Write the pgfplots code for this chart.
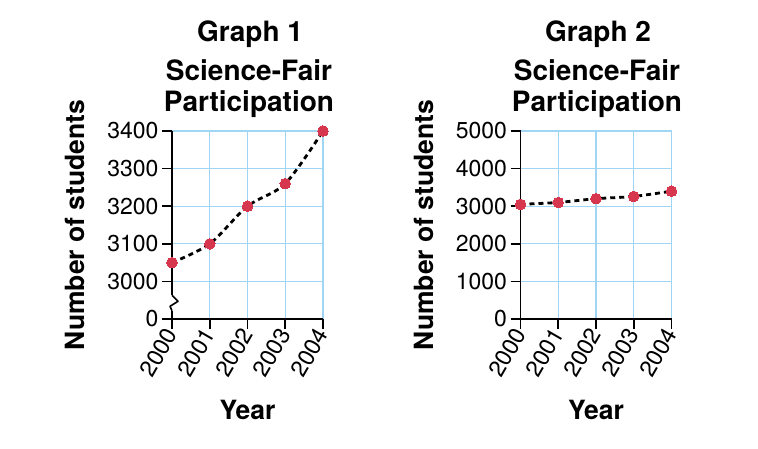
\documentclass[border=0pt]{standalone}
\usepackage{pgfplots}
\pgfplotsset{compat=1.18}
\usepackage{fontspec}
\setmainfont{TeX Gyre Heros}
\definecolor{gridblue}{RGB}{160,214,244}
\definecolor{dotred}{RGB}{214,55,78}
\pgfplotsset{
 g/.style={
   scale only axis, width=151pt, height=188pt, anchor=south west,
   axis lines=left, axis line style={-, line width=1.6pt, black},
   grid=major, grid style={gridblue, line width=1.3pt},
   major grid style={gridblue, line width=1.3pt},
   tick align=outside, major tick length=10pt, tick style={black, line width=1.6pt},
   xmin=2000, xmax=2004, xtick={2000,2001,2002,2003,2004},
   xticklabels={2000,2001,2002,2003,2004},
   ticklabel style={font=\fontsize{23}{23}\selectfont},
   xticklabel style={rotate=60, anchor=east, inner sep=1pt},
   xlabel={Year}, ylabel={Number of students},
   label style={font=\bfseries\fontsize{26.5}{26.5}\selectfont},
   xlabel style={at={(axis description cs:0.5,-0.537)}, anchor=base},
   ylabel style={at={(axis description cs:-0.64,0.5)}, anchor=center},
   clip=false,
 },
 ser/.style={black, line width=2.8pt, dash pattern=on 5pt off 4pt, smooth,
   mark=*, mark size=5.3pt, mark options={solid, fill=dotred, draw=dotred, line width=0pt}},
}
\begin{document}
\begin{tikzpicture}
\path[use as bounding box] (0,0) rectangle (758pt,448pt);
\begin{axis}[g, at={(172pt,129pt)},
  ymin=2900, ymax=3400, ytick={2900,3000,3100,3200,3300,3400},
  yticklabels={0,3000,3100,3200,3300,3400}]
\addplot[ser] coordinates {(2000,3050) (2001,3100) (2002,3200) (2003,3260) (2004,3400)};
\draw[white, line width=4pt] (axis cs:2000,2922) -- (axis cs:2000,2963);
\draw[black, line width=1.6pt, line join=round] (axis cs:2000,2963) -- ++(6pt,-6pt) -- ++(-8pt,-5pt) -- (axis cs:2000,2922);
\end{axis}
\begin{axis}[g, at={(520.5pt,129pt)},
  ymin=0, ymax=5000, ytick={0,1000,2000,3000,4000,5000},
  yticklabels={0,1000,2000,3000,4000,5000}]
\addplot[ser] coordinates {(2000,3050) (2001,3100) (2002,3200) (2003,3260) (2004,3400)};
\end{axis}
\begin{scope}[every node/.style={font=\bfseries\fontsize{28}{28}\selectfont, anchor=base, inner sep=0pt}]
\node at (250pt,406pt) {Graph 1};
\node at (249pt,367pt) {Science-Fair};
\node at (249pt,336pt) {Participation};
\node at (598pt,406pt) {Graph 2};
\node at (597pt,367pt) {Science-Fair};
\node at (597pt,336pt) {Participation};
\end{scope}
\end{tikzpicture}
\end{document}
